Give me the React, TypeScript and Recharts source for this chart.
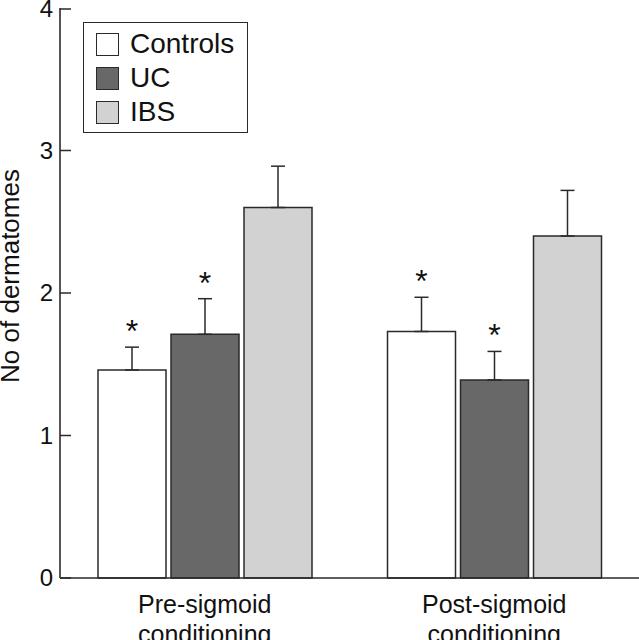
import React from 'react';
import { BarChart, Bar, XAxis, YAxis, ErrorBar, LabelList, Legend } from 'recharts';

const categories = ['Pre-sigmoid\nconditioning', 'Post-sigmoid\nconditioning'];
const controls = [1.46, 1.73];
const controlsErr = [0.16, 0.24];
const uc = [1.71, 1.39];
const ucErr = [0.25, 0.2];
const ibs = [2.6, 2.4];
const ibsErr = [0.29, 0.32];
const controlsStar = ['*', '*'];
const ucStar = ['*', '*'];
const ibsStar = ['', ''];
const yTicks = [0, 1, 2, 3, 4];
const seriesNames = ['Controls', 'UC', 'IBS'];
const seriesColors = ['#ffffff', '#686868', '#d2d2d2'];

const data = categories.map((c, i) => ({
  name: c,
  controls: controls[i],
  controlsE: [0, controlsErr[i]],
  controlsS: controlsStar[i],
  controlsErr: controlsErr[i],
  uc: uc[i],
  ucE: [0, ucErr[i]],
  ucS: ucStar[i],
  ucErr: ucErr[i],
  ibs: ibs[i],
  ibsE: [0, ibsErr[i]],
  ibsS: ibsStar[i],
  ibsErr: ibsErr[i],
}));

const FONT = 'Liberation Sans, Arial, Helvetica, sans-serif';
const INK = '#2a2a2a';

const YTick = (props: any) => {
  const { x, y, payload } = props;
  return (
    <g>
      <line x1={x} x2={x + 11} y1={y} y2={y} stroke={INK} strokeWidth={1.5} />
      <text x={x - 7} y={y} dy={8} textAnchor="end" fontSize={24} fontFamily={FONT} fill="#111">
        {payload.value}
      </text>
    </g>
  );
};

const XTick = (props: any) => {
  const { x, y, payload } = props;
  const lines = String(payload.value).split('\n');
  return (
    <g>
      {lines.map((l, i) => (
        <text key={i} x={x} y={y + 27 + i * 30} textAnchor="middle" fontSize={25} fontFamily={FONT} fill="#111">
          {l}
        </text>
      ))}
    </g>
  );
};

const makeStar = (errKey: string, valKey: string) => (props: any) => {
  const { x, y, width, height, value, index } = props;
  if (!value) return null;
  const d = data[index] as any;
  const pxPerUnit = height / d[valKey];
  const top = y - d[errKey] * pxPerUnit;
  return (
    <text x={x + width / 2} y={top - 5} textAnchor="middle" fontSize={32} fontFamily={FONT} fill="#111">
      {value}
    </text>
  );
};

const LegendBox = () => (
  <div
    style={{
      position: 'absolute',
      left: 83,
      top: 22,
      width: 165,
      height: 111,
      border: `1.5px solid ${INK}`,
      background: '#fff',
      boxSizing: 'border-box',
      fontFamily: FONT,
    }}
  >
    {seriesNames.map((n, i) => (
      <div key={n} style={{ position: 'absolute', left: 12, top: 9 + i * 34, height: 24, display: 'flex', alignItems: 'center' }}>
        <div style={{ width: 23, height: 23, background: seriesColors[i], border: `1.5px solid ${INK}`, boxSizing: 'border-box' }} />
        <span style={{ marginLeft: 11, fontSize: 28, color: '#111', lineHeight: '24px' }}>{n}</span>
      </div>
    ))}
  </div>
);

export default function App() {
  return (
    <div style={{ position: 'absolute', left: 0, top: 0, width: 639, height: 640, background: '#fff' }}>
      <BarChart
        width={639}
        height={640}
        data={data}
        margin={{ top: 8, right: 0, bottom: 0, left: 0 }}
        barSize={68}
        barGap={5}
      >
        <XAxis
          dataKey="name"
          axisLine={{ stroke: INK, strokeWidth: 1.5 }}
          tickLine={false}
          tick={<XTick />}
          height={62}
          interval={0}
        />
        <YAxis
          domain={[0, 4]}
          ticks={yTicks}
          width={60}
          tickSize={0}
          tickMargin={0}
          tickLine={false}
          axisLine={{ stroke: '#555', strokeWidth: 2 }}
          tick={<YTick />}
          label={{
            value: 'No of dermatomes',
            angle: -90,
            position: 'insideLeft',
            offset: 0,
            dx: 10,
            dy: -17,
            style: { fontSize: 26, fontFamily: FONT, fill: '#111', textAnchor: 'middle' },
          }}
        />
        <Legend content={<LegendBox />} wrapperStyle={{ position: 'absolute', left: 0, top: 0, width: 0, height: 0 }} />
        <Bar dataKey="controls" fill={seriesColors[0]} stroke={INK} strokeWidth={1.5} isAnimationActive={false} name="Controls">
          <ErrorBar dataKey="controlsE" width={7} stroke={INK} strokeWidth={1.5} direction="y" />
          <LabelList dataKey="controlsS" content={makeStar('controlsErr', 'controls')} />
        </Bar>
        <Bar dataKey="uc" fill={seriesColors[1]} stroke={INK} strokeWidth={1.5} isAnimationActive={false} name="UC">
          <ErrorBar dataKey="ucE" width={7} stroke={INK} strokeWidth={1.5} direction="y" />
          <LabelList dataKey="ucS" content={makeStar('ucErr', 'uc')} />
        </Bar>
        <Bar dataKey="ibs" fill={seriesColors[2]} stroke={INK} strokeWidth={1.5} isAnimationActive={false} name="IBS">
          <ErrorBar dataKey="ibsE" width={7} stroke={INK} strokeWidth={1.5} direction="y" />
          <LabelList dataKey="ibsS" content={makeStar('ibsErr', 'ibs')} />
        </Bar>
      </BarChart>
    </div>
  );
}
